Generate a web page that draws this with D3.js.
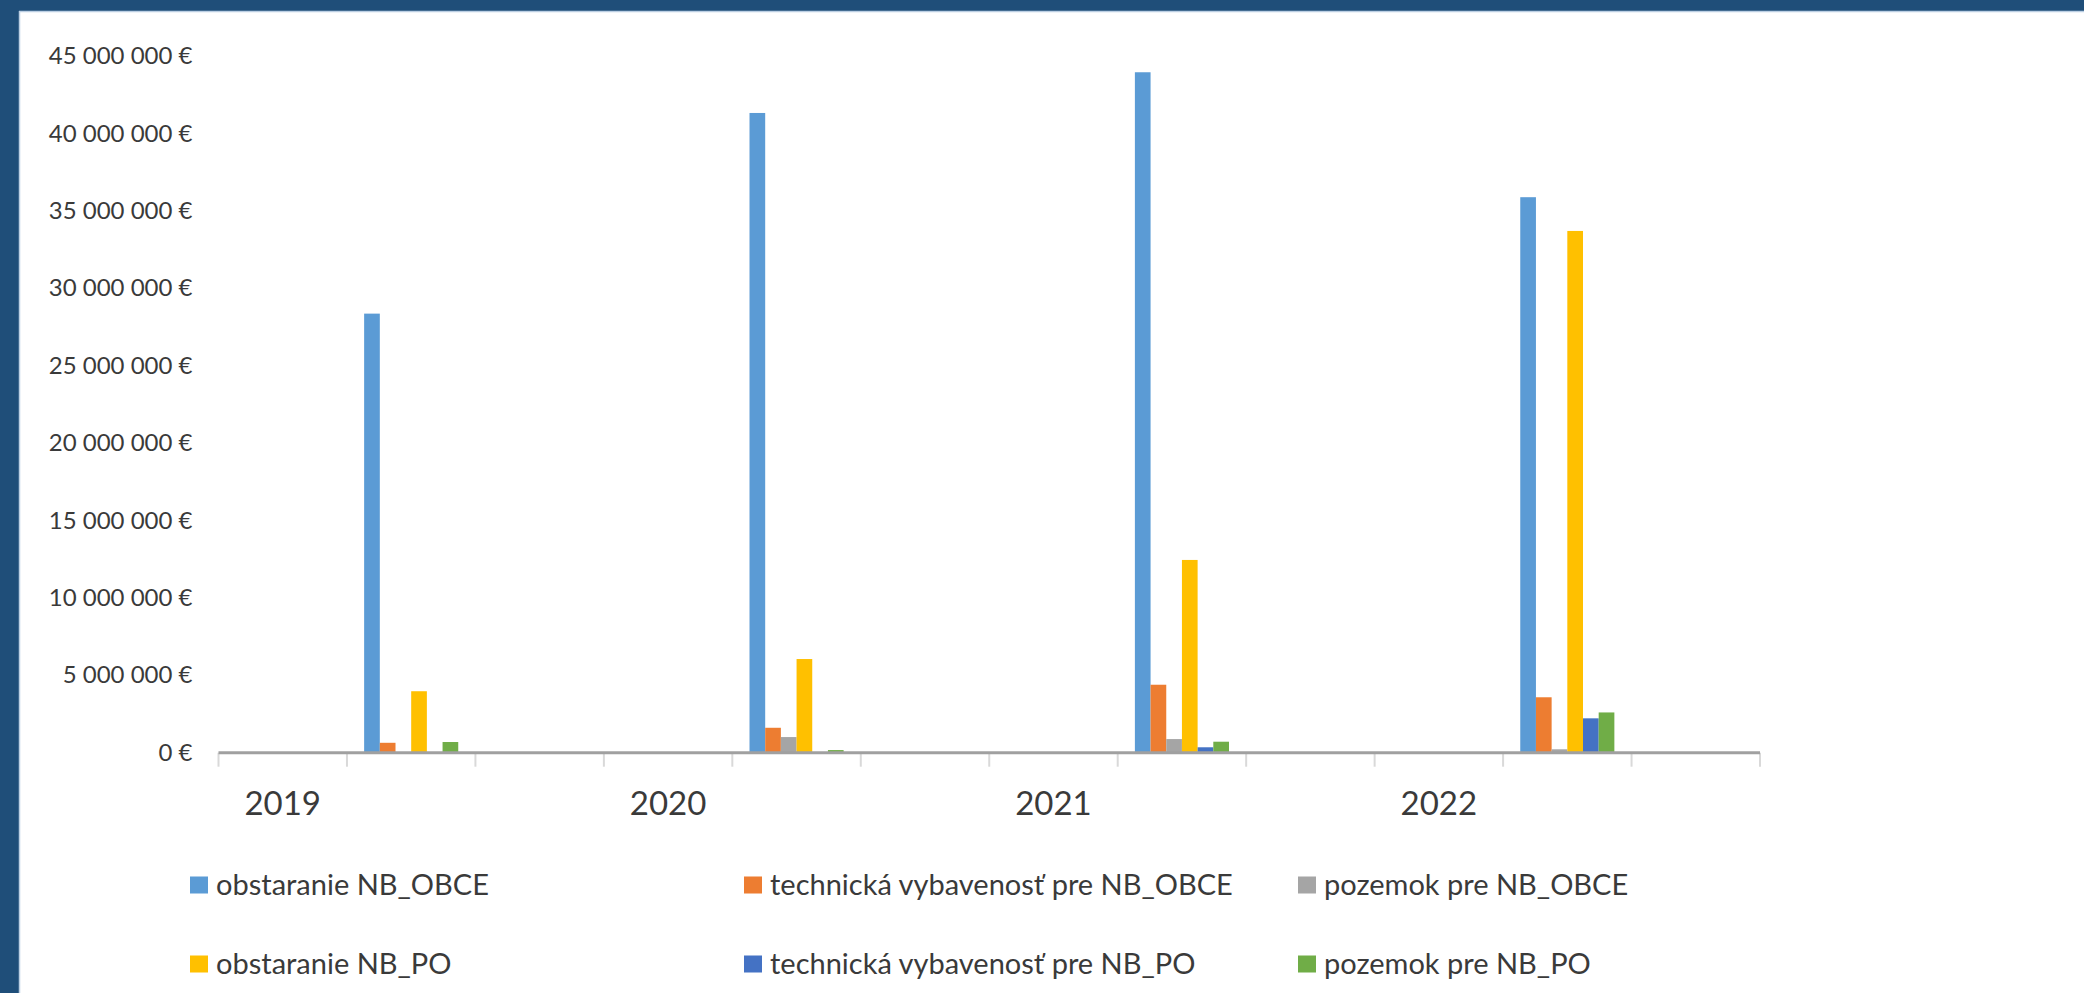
<!DOCTYPE html>
<html>
<head>
<meta charset="utf-8">
<script src="https://cdn.jsdelivr.net/npm/d3@7"></script>
<style>
  html, body { margin: 0; padding: 0; background: #ffffff; }
  svg { display: block; }
  text { font-family: Lato, "Open Sans", "Liberation Sans", sans-serif; fill: #3A3A3A; }
</style>
</head>
<body>
<svg id="chart" width="2084" height="993"></svg>
<script>
// ---- data ----
const categories = ["2019", "", "", "2020", "", "", "2021", "", "", "2022", "", ""];
const seriesNames = [
  "obstaranie NB_OBCE",
  "technická vybavenosť pre NB_OBCE",
  "pozemok pre NB_OBCE",
  "obstaranie NB_PO",
  "technická vybavenosť pre NB_PO",
  "pozemok pre NB_PO"
];
const obstaranieObce   = [null, 28360000, null, null, 41320000, null, null, 43950000, null, null, 35880000, null];
const technickaObce    = [null,   640000, null, null,  1610000, null, null,  4390000, null, null,  3580000, null];
const pozemokObce      = [null,        0, null, null,  1010000, null, null,   880000, null, null,   220000, null];
const obstaraniePO     = [null,  3970000, null, null,  6050000, null, null, 12450000, null, null, 33700000, null];
const technickaPO      = [null,        0, null, null,        0, null, null,   350000, null, null,  2220000, null];
const pozemokPO        = [null,   690000, null, null,   170000, null, null,   710000, null, null,  2600000, null];
const yTickValues = [0, 5000000, 10000000, 15000000, 20000000, 25000000, 30000000, 35000000, 40000000, 45000000];
const colors = ["#5B9BD5", "#ED7D31", "#A5A5A5", "#FFC000", "#4472C4", "#70AD47"];

const seriesValues = [obstaranieObce, technickaObce, pozemokObce, obstaraniePO, technickaPO, pozemokPO];

// ---- layout ----
const W = 2084, H = 993;
const plot = { left: 218.5, right: 1760, top: 56, bottom: 752.7 };

const svg = d3.select("#chart");

// frame
svg.append("rect").attr("x", 0).attr("y", 0).attr("width", W).attr("height", H).attr("fill", "#1F4E79");
svg.append("rect").attr("x", 19).attr("y", 11).attr("width", W - 19).attr("height", H - 11).attr("fill", "#ffffff");
svg.append("line").attr("x1", 19).attr("x2", W).attr("y1", 11.5).attr("y2", 11.5).attr("stroke", "#BCCFE3").attr("stroke-width", 1.5);
svg.append("line").attr("x1", 19.5).attr("x2", 19.5).attr("y1", 11).attr("y2", H).attr("stroke", "#BCCFE3").attr("stroke-width", 1.5);

const x = d3.scaleBand().domain(d3.range(categories.length)).range([plot.left, plot.right]).paddingInner(0).paddingOuter(0);
const xInner = d3.scaleBand().domain(d3.range(seriesNames.length)).range([0, x.bandwidth()]).paddingInner(0).paddingOuter(1.095);
const y = d3.scaleLinear().domain([0, 45000000]).range([plot.bottom, plot.top]);

// y axis labels
const fmt = v => d3.format(",")(v).replace(/,/g, " ") + " €";
const yAxis = d3.axisLeft(y).tickValues(yTickValues).tickSize(0).tickPadding(26).tickFormat(fmt);
const gy = svg.append("g").attr("transform", `translate(${plot.left},0)`).call(yAxis);
gy.select(".domain").remove();
gy.selectAll("text").style("font-size", "24px").attr("fill", "#3A3A3A").style("font-family", "Lato, 'Open Sans', sans-serif");

// bars
const gBars = svg.append("g");
seriesValues.forEach((vals, si) => {
  gBars.selectAll(null)
    .data(vals.map((v, i) => ({ v, i })).filter(d => d.v !== null && d.v > 0))
    .enter().append("rect")
    .attr("x", d => x(d.i) + xInner(si))
    .attr("width", xInner.bandwidth())
    .attr("y", d => y(d.v))
    .attr("height", d => y(0) - y(d.v))
    .attr("fill", colors[si]);
});

// x axis line + boundary ticks
const boundaries = d3.range(categories.length).map(i => x(i)).concat([x(categories.length - 1) + x.bandwidth()]);
svg.append("g").selectAll("line").data(boundaries).enter().append("line")
  .attr("x1", d => d).attr("x2", d => d)
  .attr("y1", plot.bottom).attr("y2", plot.bottom + 14)
  .attr("stroke", "#D9D9D9").attr("stroke-width", 2);
svg.append("line")
  .attr("x1", plot.left).attr("x2", plot.right)
  .attr("y1", plot.bottom).attr("y2", plot.bottom)
  .attr("stroke", "#A0A0A0").attr("stroke-width", 3);

// x labels
const xAxis = d3.axisBottom(x).tickSize(0).tickPadding(0).tickFormat(i => categories[i]);
const gx = svg.append("g").attr("transform", `translate(0,${plot.bottom})`).call(xAxis);
gx.select(".domain").remove();
gx.selectAll("text").attr("dy", null).attr("y", 62).style("font-size", "33px").attr("fill", "#3A3A3A").style("font-family", "Lato, 'Open Sans', sans-serif");

// legend
const legendCols = 3;
const legend = svg.append("g");
seriesNames.forEach((name, i) => {
  const col = i % legendCols, row = Math.floor(i / legendCols);
  const gx0 = 190 + col * 554, gy0 = 885 + row * 79;
  const g = legend.append("g").attr("transform", `translate(${gx0},${gy0})`);
  g.append("rect").attr("x", 0).attr("y", -8.5).attr("width", 18).attr("height", 17).attr("fill", colors[i]);
  g.append("text").attr("x", 26).attr("y", 0).attr("dy", "0.36em").style("font-size", "29px").text(name);
});
</script>
</body>
</html>
